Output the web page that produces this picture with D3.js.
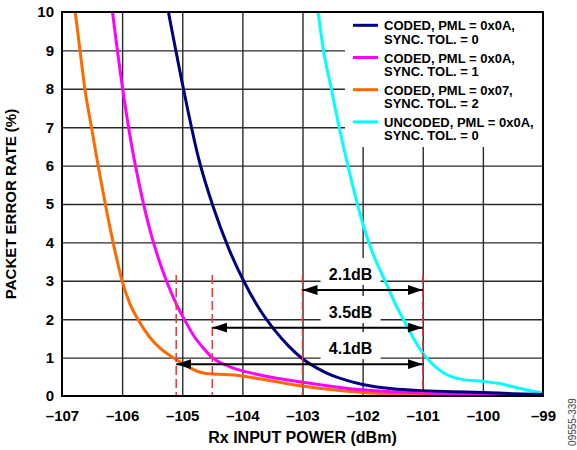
<!DOCTYPE html>
<html><head><meta charset="utf-8">
<script src="https://cdn.jsdelivr.net/npm/d3@7/dist/d3.min.js"></script>
<style>
html,body{margin:0;padding:0;background:#fff;}
svg text{font-family:Arial,"Liberation Sans",Helvetica,sans-serif;font-weight:bold;fill:#000;}
</style></head>
<body><svg id="c" width="577" height="450"></svg>
<script>
// ---- data ----
const xTicks = [-107,-106,-105,-104,-103,-102,-101,-100,-99];
const yTicks = [0,1,2,3,4,5,6,7,8,9,10];
const seriesNames = [
  ["CODED, PML = 0x0A,","SYNC. TOL. = 0"],
  ["CODED, PML = 0x0A,","SYNC. TOL. = 1"],
  ["CODED, PML = 0x07,","SYNC. TOL. = 2"],
  ["UNCODED, PML = 0x0A,","SYNC. TOL. = 0"]
];
const seriesColors = ["#00007f","#ff00ff","#ff6a00","#00ffff"];

const coded0A0_x = [-105.23,-104.98,-104.73,-104.48,-104.23,-103.98,-103.73,-103.48,-103.23,-103.0,-102.75,-102.5,-102.25,-102.0,-101.5,-101.0,-100.5,-100.0,-99.5,-99.0];
const coded0A0_y = [10,8,6.2,4.9,3.85,3.0,2.3,1.75,1.3,0.97,0.72,0.53,0.4,0.3,0.19,0.14,0.11,0.09,0.06,0.04];

const coded0A1_x = [-106.16,-106.0,-105.85,-105.7,-105.55,-105.4,-105.25,-105.1,-104.95,-104.8,-104.65,-104.5,-104.3,-104.1,-103.8,-103.5,-103.0,-102.5,-102.0,-101.5,-101.0,-100.5,-100.0,-99.5,-99.0];
const coded0A1_y = [10,8.1,6.6,5.4,4.4,3.6,2.95,2.4,1.95,1.55,1.25,1.0,0.82,0.7,0.58,0.48,0.36,0.25,0.16,0.11,0.08,0.06,0.04,0.03,0.02];

const coded072_x = [-106.78,-106.70,-106.62,-106.51,-106.40,-106.28,-106.15,-106.0,-105.87,-105.73,-105.55,-105.35,-105.12,-104.9,-104.7,-104.5,-104.3,-104.1,-103.8,-103.5,-103.0,-102.5,-102.0,-101.5,-101.0,-100.0,-99.0];
const coded072_y = [10,9,8,7,6,5,4,3.0,2.4,1.98,1.55,1.22,0.97,0.76,0.62,0.57,0.56,0.54,0.47,0.39,0.26,0.16,0.09,0.05,0.03,0.02,0.02];

const uncoded_x = [-102.74,-102.65,-102.52,-102.39,-102.26,-102.12,-101.98,-101.84,-101.7,-101.57,-101.45,-101.33,-101.2,-101.08,-100.95,-100.8,-100.65,-100.5,-100.3,-100.0,-99.75,-99.5,-99.25,-99.0];
const uncoded_y = [10,9,8,7,6.1,5.2,4.4,3.75,3.25,2.8,2.38,2.02,1.64,1.31,1.02,0.78,0.6,0.49,0.42,0.38,0.33,0.24,0.15,0.08];

// annotation markers (dBm) and arrows
const markerX = [-105.1,-104.5,-103.0,-101.0];
const markerTop = 3.15;
const arrowLabels = ["2.1dB","3.5dB","4.1dB"];
const arrowFrom = [-103.0,-104.5,-105.1];
const arrowTo = [-101.0,-101.0,-101.0];
const arrowY = [2.76,1.78,0.83];
const labelY = [3.02,2.03,1.09];
const labelX = -102.2;

// ---- chart ----
const svg = d3.select("#c");
const L=62,R=543,T=12,B=396;
const x = d3.scaleLinear().domain([-107,-99]).range([L,R]);
const y = d3.scaleLinear().domain([0,10]).range([B,T]);

// gridlines
svg.append("g").attr("transform",`translate(0,${B})`)
  .call(d3.axisBottom(x).tickValues(xTicks.slice(1,-1)).tickSize(-(B-T)).tickFormat(""))
  .call(g=>g.select(".domain").remove())
  .call(g=>g.selectAll("line").attr("stroke","#2a2a2a").attr("stroke-width",1.4));
svg.append("g").attr("transform",`translate(${L},0)`)
  .call(d3.axisLeft(y).tickValues(yTicks.slice(1,-1)).tickSize(-(R-L)).tickFormat(""))
  .call(g=>g.select(".domain").remove())
  .call(g=>g.selectAll("line").attr("stroke","#2a2a2a").attr("stroke-width",1.4));

// legend background
svg.append("rect").attr("x",345).attr("y",T).attr("width",R-345).attr("height",147-T).attr("fill","#fff");

// label backgrounds
arrowLabels.forEach((t,i)=>{
  const by = y(labelY[i]);
  svg.append("rect").attr("x",x(labelX)-30).attr("y",by-22).attr("width",60).attr("height",27).attr("fill","#fff");
});

// clip
svg.append("clipPath").attr("id","clip").append("rect").attr("x",L).attr("y",T).attr("width",R-L).attr("height",B-T);

const series = [
  {xs:coded0A0_x, ys:coded0A0_y},
  {xs:coded0A1_x, ys:coded0A1_y},
  {xs:coded072_x, ys:coded072_y},
  {xs:uncoded_x, ys:uncoded_y}
];
const line = d3.line().x(d=>x(d[0])).y(d=>y(d[1])).curve(d3.curveMonotoneX);
const curves = svg.append("g").attr("clip-path","url(#clip)");
[3,2,1,0].forEach(i=>{
  const s=series[i];
  curves.append("path").datum(s.xs.map((v,k)=>[v,s.ys[k]]))
    .attr("d",line).attr("fill","none").attr("stroke",seriesColors[i]).attr("stroke-width",3)
    .attr("stroke-linejoin","round");
});

// red dashed markers
markerX.forEach(m=>{
  svg.append("line").attr("x1",x(m)).attr("x2",x(m)).attr("y1",y(markerTop)).attr("y2",B)
    .attr("stroke","#f0393c").attr("stroke-width",1.6).attr("stroke-dasharray","9,4");
});

// arrows
const defs = svg.append("defs");
defs.append("marker").attr("id","ah").attr("viewBox","0 0 15 10").attr("refX",15).attr("refY",5)
  .attr("markerWidth",15).attr("markerHeight",10).attr("markerUnits","userSpaceOnUse").attr("orient","auto-start-reverse")
  .append("path").attr("d","M0,0L15,5L0,10Z").attr("fill","#000");
arrowLabels.forEach((t,i)=>{
  svg.append("line").attr("x1",x(arrowFrom[i])).attr("x2",x(arrowTo[i])).attr("y1",y(arrowY[i])).attr("y2",y(arrowY[i]))
    .attr("stroke","#000").attr("stroke-width",2).attr("marker-start","url(#ah)").attr("marker-end","url(#ah)");
  svg.append("text").attr("x",x(labelX)).attr("y",y(labelY[i])).attr("text-anchor","middle")
    .attr("font-size",16).text(t);
});

// frame
svg.append("rect").attr("x",L).attr("y",T).attr("width",R-L).attr("height",B-T)
  .attr("fill","none").attr("stroke","#000").attr("stroke-width",2);

// axes labels
svg.append("g").attr("transform",`translate(0,${B})`)
  .call(d3.axisBottom(x).tickValues(xTicks).tickSize(0).tickPadding(14).tickFormat(d=>"\u2013"+Math.abs(d)))
  .call(g=>g.select(".domain").remove())
  .call(g=>g.selectAll("text").attr("font-size",15).attr("font-family",null).attr("fill","#000"));
svg.append("g").attr("transform",`translate(${L},0)`)
  .call(d3.axisLeft(y).tickValues(yTicks).tickSize(0).tickPadding(8))
  .call(g=>g.select(".domain").remove())
  .call(g=>g.selectAll("text").attr("font-size",15).attr("font-family",null).attr("fill","#000"));

svg.append("text").attr("x",(L+R)/2).attr("y",443).attr("text-anchor","middle").attr("font-size",16).text("Rx INPUT POWER (dBm)");
svg.append("text").attr("transform","rotate(-90)").attr("x",-(T+B)/2).attr("y",16).attr("text-anchor","middle").attr("font-size",15).text("PACKET ERROR RATE (%)");
svg.append("text").attr("transform","rotate(-90)").attr("x",-422).attr("y",576).attr("text-anchor","middle")
  .attr("font-size",10).style("font-weight","normal").style("fill","#444").text("09555-339");

// legend
const legY0 = 25.3, legStep = 32.2;
seriesNames.forEach((nm,i)=>{
  const ly = legY0 + i*legStep;
  svg.append("line").attr("x1",353).attr("x2",378).attr("y1",ly).attr("y2",ly)
    .attr("stroke",seriesColors[i]).attr("stroke-width",3);
  svg.append("text").attr("x",384).attr("y",ly+5).attr("font-size",13).text(nm[0]);
  svg.append("text").attr("x",384).attr("y",ly+18.5).attr("font-size",13).text(nm[1]);
});
</script></body></html>
